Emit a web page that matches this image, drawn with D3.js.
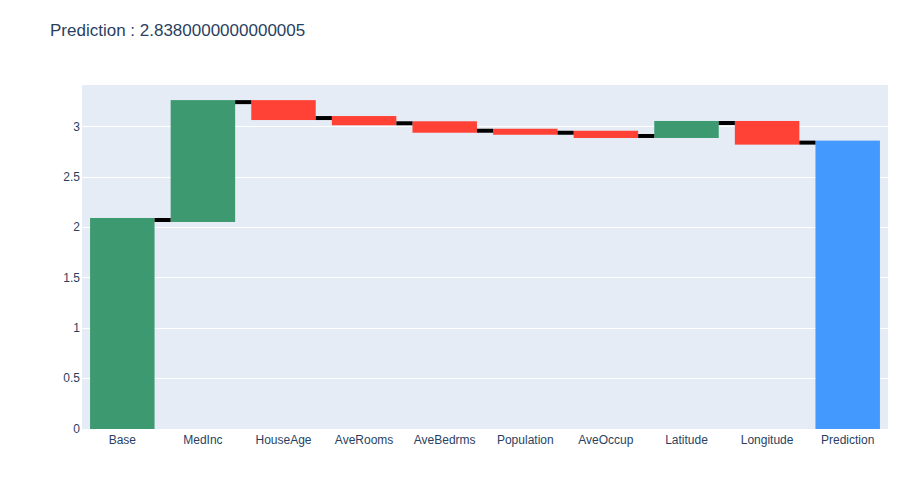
<!DOCTYPE html>
<html>
<head>
<meta charset="utf-8">
<script src="https://cdn.jsdelivr.net/npm/d3@7"></script>
<style>
  html, body { margin: 0; padding: 0; background: #fff; }
  svg { display: block; font-family: "Liberation Sans", Arial, sans-serif; }
</style>
</head>
<body>
<svg id="chart" width="922" height="480"></svg>
<script>
const categories = ["Base", "MedInc", "HouseAge", "AveRooms", "AveBedrms", "Population", "AveOccup", "Latitude", "Longitude", "Prediction"];
const deltas = [2.07, 1.17, -0.158, -0.052, -0.074, -0.02, -0.032, 0.129, -0.195, 2.838];
const isTotal = [false, false, false, false, false, false, false, false, false, true];
const yTicks = [0, 0.5, 1, 1.5, 2, 2.5, 3];
const titleText = "Prediction : 2.8380000000000005";

const colors = { inc: "#3D9970", dec: "#FF4136", total: "#4499FF" };

const W = 922, H = 480;
const plot = { left: 82, right: 888, top: 85, bottom: 428.5 };

const svg = d3.select("#chart");

// build waterfall steps
let run = 0;
const steps = categories.map((c, i) => {
  let start, end;
  if (isTotal[i]) { start = 0; end = deltas[i]; run = end; }
  else { start = run; end = run + deltas[i]; run = end; }
  return { cat: c, start, end, total: isTotal[i], inc: end >= start };
});

const x = d3.scaleBand().domain(categories).range([plot.left, plot.right]).paddingInner(0.2).paddingOuter(0.1);
const y = d3.scaleLinear().domain([0, 3.41]).range([plot.bottom, plot.top]);

// background
svg.append("rect").attr("x", plot.left).attr("y", plot.top)
  .attr("width", plot.right - plot.left).attr("height", plot.bottom - plot.top + 0.5)
  .attr("fill", "#E5ECF6");

// gridlines
svg.append("g").selectAll("line").data(yTicks.filter(d => d > 0)).join("line")
  .attr("x1", plot.left).attr("x2", plot.right)
  .attr("y1", d => Math.round(y(d)) + 0.5).attr("y2", d => Math.round(y(d)) + 0.5)
  .attr("stroke", "#fff").attr("stroke-width", 1);

// clip
svg.append("clipPath").attr("id", "clip").append("rect")
  .attr("x", plot.left).attr("y", plot.top)
  .attr("width", plot.right - plot.left).attr("height", plot.bottom - plot.top + 0.5);

const g = svg.append("g").attr("clip-path", "url(#clip)");

const ext = 2;
// bars
g.selectAll("rect.bar").data(steps).join("rect").attr("class", "bar")
  .attr("x", d => x(d.cat))
  .attr("width", x.bandwidth())
  .attr("y", d => Math.min(y(d.start), y(d.end)) - ext)
  .attr("height", d => Math.abs(y(d.start) - y(d.end)) + 2 * ext)
  .attr("fill", d => d.total ? colors.total : (d.inc ? colors.inc : colors.dec));

// connectors
const conns = steps.slice(0, -1).map((d, i) => ({ from: d, to: steps[i + 1] }));
g.selectAll("line.conn").data(conns).join("line").attr("class", "conn")
  .attr("x1", d => x(d.from.cat) + x.bandwidth())
  .attr("x2", d => x(d.to.cat))
  .attr("y1", d => y(d.from.end)).attr("y2", d => y(d.from.end))
  .attr("stroke", "#000").attr("stroke-width", 4);

// y axis labels
const yAxis = d3.axisLeft(y).tickValues(yTicks).tickSize(0).tickPadding(2)
  .tickFormat(d => d3.format("")(d));
const ya = svg.append("g").attr("transform", `translate(${plot.left},0)`).call(yAxis);
ya.select(".domain").remove();
ya.selectAll("text").attr("font-size", 12).attr("fill", "#2a3f5f")
  .attr("font-family", "'Liberation Sans', Arial, sans-serif");

// x axis labels
const xAxis = d3.axisBottom(x).tickSize(0).tickPadding(6.5);
const xa = svg.append("g").attr("transform", `translate(0,${plot.bottom})`).call(xAxis);
xa.select(".domain").remove();
xa.selectAll("text").attr("font-size", 12).attr("fill", "#2a3f5f")
  .attr("font-family", "'Liberation Sans', Arial, sans-serif");

// title
svg.append("text").attr("x", 50).attr("y", 35.5)
  .attr("font-size", 17).attr("fill", "#2a3f5f")
  .text(titleText);
</script>
</body>
</html>
